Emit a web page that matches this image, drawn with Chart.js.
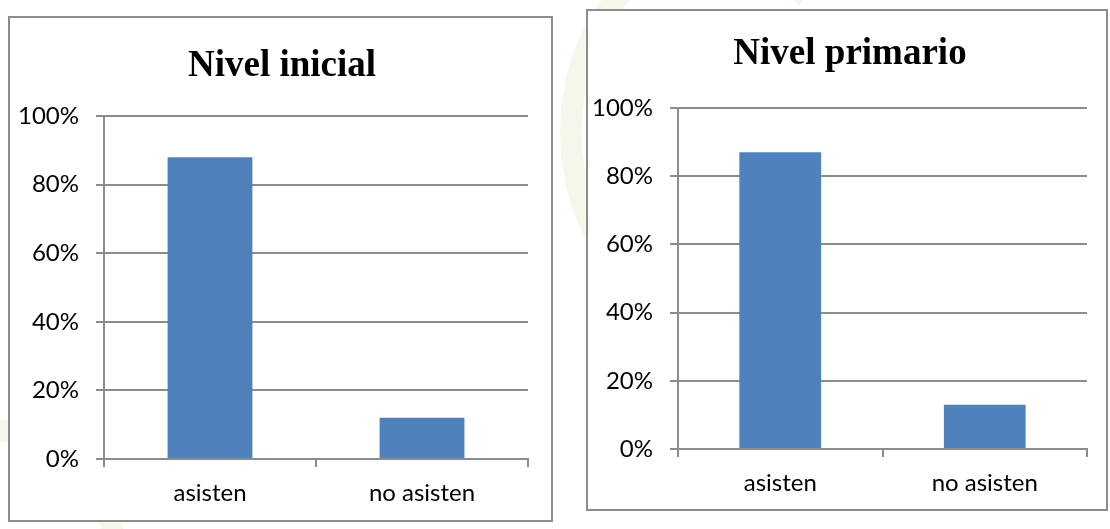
<!DOCTYPE html>
<html>
<head>
<meta charset="utf-8">
<script src="https://cdn.jsdelivr.net/npm/chart.js@4.4.1/dist/chart.umd.min.js"></script>
<style>
  html, body { margin: 0; padding: 0; background: #fff; }
  #page { position: relative; width: 1110px; height: 529px; overflow: hidden; }
  .box { position: absolute; border: 2px solid #8c8c8c; background: #fff; overflow: hidden; }
  .box canvas { display: block; }
  /* marca de agua verde muy tenue entre los dos graficos */
  .wm { position: absolute; border-radius: 50%; border: 22px solid #f3f8ea; }
</style>
</head>
<body>
<div id="page">
  <div class="wm" style="left:560px; top:-60px; width:260px; height:340px; border-right-color:transparent; border-bottom-color:transparent;"></div>
  <div class="wm" style="left:-120px; top:420px; width:200px; height:200px; border-left-color:transparent; border-bottom-color:transparent;"></div>
  <div class="box" style="left:8px; top:16px; width:541px; height:502px;">
    <canvas id="chartInicial" width="544" height="502"></canvas>
  </div>
  <div class="box" style="left:586px; top:9px; width:518px; height:498px;">
    <canvas id="chartPrimario" width="524" height="498"></canvas>
  </div>
</div>
<script>
// Datos
const categories = ['asisten', 'no asisten'];
const inicialValues = [88, 12];
const primarioValues = [87, 13];
const yTickValues = [0, 20, 40, 60, 80, 100];

const gridGray = '#8c8c8c';
const barBlue = '#4f81bd';

function makeChart(id, title, values, opts) {
    const ctx = document.getElementById(id).getContext('2d');
    return new Chart(ctx, {
        type: 'bar',
        data: {
            labels: categories,
            datasets: [{
                data: values,
                backgroundColor: barBlue,
                barPercentage: 0.4,
                categoryPercentage: 1
            }]
        },
        options: {
            responsive: false,
            animation: false,
            layout: { padding: 0 },
            scales: {
                y: {
                    min: 0,
                    max: 100,
                    afterBuildTicks: (scale) => {
                        scale.ticks = yTickValues.map(v => ({ value: v }));
                    },
                    afterFit: (scale) => { scale.width = opts.yWidth; },
                    ticks: {
                        color: '#000',
                        padding: 17,
                        font: { family: 'Lato', size: 24 },
                        callback: (v) => v + '%'
                    },
                    grid: { color: gridGray, lineWidth: 2, tickLength: 8 },
                    border: { display: true, color: gridGray, width: 2 }
                },
                // eje vacio a la derecha, solo deja el margen (asi el titulo queda centrado en todo el recuadro)
                margen: {
                    type: 'linear',
                    position: 'right',
                    afterFit: (scale) => { scale.width = opts.rightGap; },
                    ticks: { display: false },
                    grid: { display: false },
                    border: { display: false }
                },
                x: {
                    afterFit: (scale) => { scale.height = opts.xHeight; },
                    ticks: {
                        color: '#000',
                        padding: 12,
                        font: { family: 'Lato', size: 24 }
                    },
                    grid: {
                        offset: true,
                        drawOnChartArea: false,
                        color: gridGray,
                        lineWidth: 2,
                        tickLength: 8
                    },
                    border: { display: true, color: gridGray, width: 2 }
                }
            },
            plugins: {
                legend: { display: false },
                tooltip: { enabled: false },
                title: {
                    display: true,
                    text: title,
                    color: '#000',
                    font: { family: 'Liberation Serif', size: 37, weight: 'bold' },
                    padding: { top: opts.titleTop, bottom: opts.titleBottom }
                }
            }
        }
    });
}

makeChart('chartInicial', 'Nivel inicial', inicialValues,
    { rightGap: 26, yWidth: 94, xHeight: 61, titleTop: 26, titleBottom: 27.6 });
makeChart('chartPrimario', 'Nivel primario', primarioValues,
    { rightGap: 25, yWidth: 90, xHeight: 60, titleTop: 21.3, titleBottom: 31.3 });
</script>
</body>
</html>
